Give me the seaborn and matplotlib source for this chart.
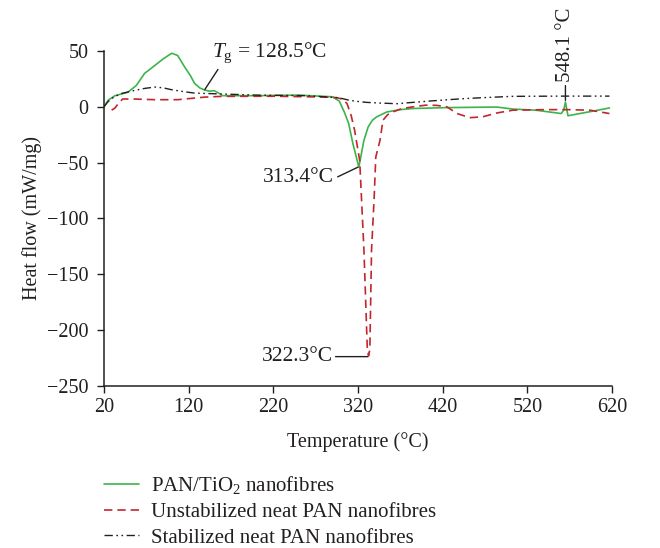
import matplotlib
matplotlib.use("Agg")
import matplotlib.pyplot as plt
import seaborn as sns

# PAN/TiO2 nanofibres
green_T = [20, 25, 33, 48, 58, 68, 80, 90, 100, 107, 115, 122, 127, 133, 139, 145, 150,
           155, 160, 200, 250, 290, 298, 304, 309, 314, 318, 321, 324, 327, 332, 337,
           342, 354, 370, 385, 425, 484, 503, 530, 550, 560, 563, 565, 568, 575, 582,
           600, 617]
green_HF = [0, 6, 10, 13, 19, 30, 37, 43, 48, 46, 36, 28, 21, 17, 15, 14, 14.5,
            12.5, 10, 10, 10.5, 9, 5, -5, -15, -33, -45, -54, -42, -30, -18, -12,
            -9, -4.6, -2.5, -1.5, -0.7, -0.2, -2, -3, -5, -6, -3, 4.3, -8, -7, -6,
            -3.5, -1]

# Unstabilized neat PAN nanofibres
red_T = [29, 33, 37, 42, 55, 80, 107, 139, 160, 220, 280, 295, 301, 307, 312, 316,
         322, 327, 331, 332.5, 334, 336, 339, 341, 346, 349.5, 355, 361, 372, 385,
         400, 413, 425, 437, 452, 467, 484, 503, 543, 567, 594, 617]
red_HF = [-3, -1, 3, 7, 7, 6.4, 6.4, 8.7, 9.4, 9.5, 8.8, 8.2, 7, 3, -8, -21,
          -48, -128, -217, -223, -217, -128, -83, -45, -30, -12, -7, -4.6, -1.5, 0,
          1.5, 1.3, 0, -6, -9.7, -9, -5.5, -3, -2.5, -2.5, -3, -6]

# Stabilized neat PAN nanofibres
black_T = [20, 24, 29, 35, 41, 55, 68, 80, 90, 100, 115, 127, 147, 200, 260, 295,
           302, 310, 320, 330, 345, 366, 385, 405, 425, 444, 470, 503, 562, 617]
black_HF = [0, 4, 7.5, 10, 12, 14.5, 16.5, 17.7, 17, 15.3, 13.5, 12.3, 11.8, 10.5,
            10, 8.2, 7.3, 5.8, 4.8, 4.0, 3.4, 2.8, 4, 5.2, 6.3, 7.3, 8.3, 9.4, 9.6,
            9.6]

labels = ["PAN/TiO$_2$ nanofibres", "Unstabilized neat PAN nanofibres",
          "Stabilized neat PAN nanofibres"]
x_ticks = [20, 120, 220, 320, 420, 520, 620]
y_ticks = [50, 0, -50, -100, -150, -200, -250]

sns.set_style("ticks")
plt.rcParams["font.family"] = ["Liberation Serif", "DejaVu Serif"]
plt.rcParams["mathtext.fontset"] = "custom"
plt.rcParams["mathtext.rm"] = "Liberation Serif"
plt.rcParams["mathtext.it"] = "Liberation Serif:italic"
plt.rcParams["font.size"] = 14
dark = "#231f20"

fig = plt.figure(figsize=(6.6, 5.48), dpi=100)
ax = fig.add_axes([104 / 660, 162 / 548, 508 / 660, 335 / 548])

sns.lineplot(x=green_T, y=green_HF, ax=ax, color="#3cb44b", lw=1.2,
             sort=False, estimator=None, label=labels[0])
sns.lineplot(x=red_T, y=red_HF, ax=ax, color="#c1272d", lw=1.2,
             linestyle=(0, (5, 3)), sort=False, estimator=None, label=labels[1])
sns.lineplot(x=black_T, y=black_HF, ax=ax, color=dark, lw=1.0,
             linestyle=(0, (6, 2.5, 1.2, 2.5, 1.2, 2.5)), sort=False,
             estimator=None, label=labels[2])

ax.set_xlim(20, 620)
ax.set_ylim(-250, 50)
ax.set_xticks(x_ticks)
ax.set_yticks(y_ticks)
ax.tick_params(direction="out", length=5, width=1, colors=dark, labelsize=14.5)
ax.tick_params(axis="y", pad=6)
for side in ["top", "right"]:
    ax.spines[side].set_visible(False)
for side in ["left", "bottom"]:
    ax.spines[side].set_color(dark)
    ax.spines[side].set_linewidth(1.1)

ax.set_xlabel("Temperature (°C)", fontsize=14.5, color=dark, labelpad=11)
ax.set_ylabel("Heat flow (mW/mg)", fontsize=14.5, color=dark, labelpad=4)

# annotations
line_kw = dict(arrowstyle="-", color=dark, lw=1.0, shrinkA=0, shrinkB=0)
ax.annotate("", xy=(139, 15.4), xytext=(154.6, 33.5), arrowprops=line_kw)
ax.text(147.5, 48, r"$T_\mathrm{g}$ = 128.5°C", fontsize=15.5, color=dark,
        ha="left", va="center")
ax.annotate("", xy=(320, -54), xytext=(296, -62.7), arrowprops=line_kw)
ax.text(291.5, -63, "313.4°C", fontsize=15.5, color=dark, ha="right", va="center")
ax.annotate("", xy=(331.7, -223.7), xytext=(293.5, -223.7), arrowprops=line_kw)
ax.text(290.4, -223.7, "322.3°C", fontsize=15.5, color=dark, ha="right",
        va="center")
ax.annotate("", xy=(565, 5.8), xytext=(565, 19), arrowprops=line_kw)
ax.text(565, 22.5, "548.1 °C", fontsize=15, color=dark, ha="center",
        va="bottom", rotation=90, clip_on=False)

ax.get_legend().remove()
handles, _ = ax.get_legend_handles_labels()
fig.legend(handles, labels, loc="upper left",
           bbox_to_anchor=(104 / 660, 1 - 474 / 548), frameon=False,
           fontsize=15, handlelength=1.7, handletextpad=0.55,
           labelspacing=0.3, borderaxespad=0, borderpad=0, labelcolor=dark)

fig.savefig("out.png", dpi=100)
